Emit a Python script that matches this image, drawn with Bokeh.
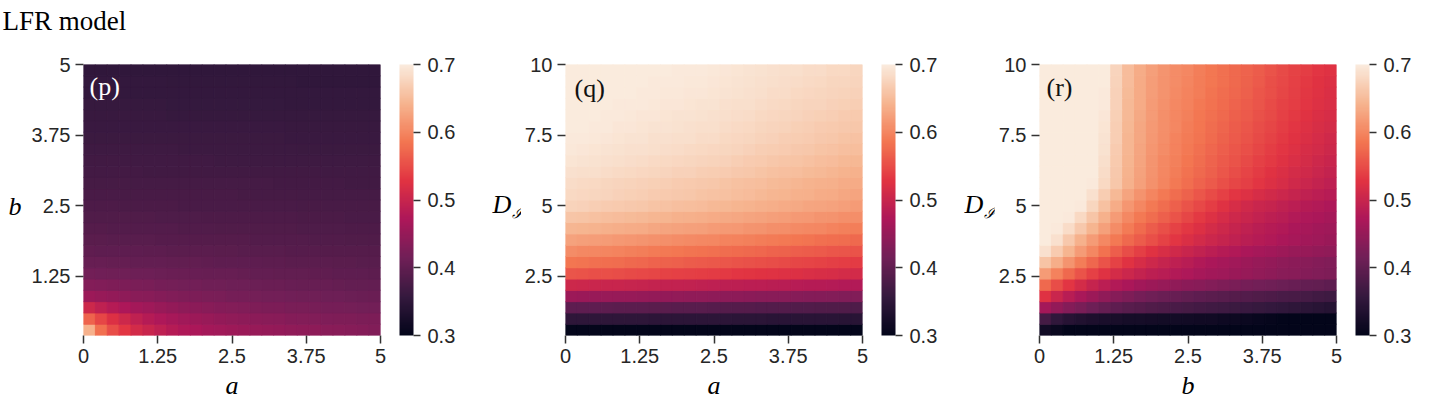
import numpy as np
from bokeh.plotting import figure
from bokeh.models import (ColumnDataSource, LinearColorMapper, ColorBar, FixedTicker,
                          Label, Range1d, CustomJSTickFormatter)
from bokeh.layouts import row, column
from bokeh.transform import transform
from bokeh.embed import file_html
from bokeh.resources import INLINE

# ---------------- data ----------------
A_VALUES = [0.1, 0.3, 0.5, 0.7, 0.9, 1.1, 1.3, 1.5, 1.7, 1.9, 2.1, 2.3, 2.5,
            2.7, 2.9, 3.1, 3.3, 3.5, 3.7, 3.9, 4.1, 4.3, 4.5, 4.7, 4.9]
B_VALUES = [0.3, 0.5, 0.7, 0.9, 1.1, 1.3, 1.5, 1.7, 1.9, 2.1, 2.3, 2.5,
            2.7, 2.9, 3.1, 3.3, 3.5, 3.7, 3.9, 4.1, 4.3, 4.5, 4.7, 4.9]
D_VALUES = [0.6, 1.0, 1.4, 1.8, 2.2, 2.6, 3.0, 3.4, 3.8, 4.2, 4.6, 5.0,
            5.4, 5.8, 6.2, 6.6, 7.0, 7.4, 7.8, 8.2, 8.6, 9.0, 9.4, 9.8]

X_TICKS = [0, 1.25, 2.5, 3.75, 5]
X_TICK_LABELS = ["0", "1.25", "2.5", "3.75", "5"]
B_TICKS = [1.25, 2.5, 3.75, 5]
B_TICK_LABELS = ["1.25", "2.5", "3.75", "5"]
D_TICKS = [2.5, 5, 7.5, 10]
D_TICK_LABELS = ["2.5", "5", "7.5", "10"]
CBAR_TICKS = [0.3, 0.4, 0.5, 0.6, 0.7]
CBAR_TICK_LABELS = ["0.3", "0.4", "0.5", "0.6", "0.7"]
VMIN, VMAX = 0.3, 0.7

TITLE = "LFR model"
TAGS = ["(p)", "(q)", "(r)"]
X_LABELS = ["a", "a", "b"]

# values in thousandths; rows from bottom (first y value) to top, columns left to right
P_VALUES = [  # x = a, y = b
    [640,580,550,530,512,500,490,481,474,469,464,460,457,454,451,449,447,445,443,441,439,437,435,433,431],
    [570,545,522,505,492,481,472,466,460,456,452,448,445,442,440,438,436,434,432,430,429,428,427,426,425],
    [505,492,480,471,464,458,452,447,443,440,437,434,432,430,428,426,425,423,422,421,420,419,418,417,416],
    [455,451,447,443,439,436,433,430,428,426,424,422,420,419,418,417,416,415,414,413,412,411,410,409,408],
    [432,430,428,426,424,422,420,418,417,416,414,413,412,411,410,409,408,407,406,405,405,404,403,403,402],
    [416,415,414,413,412,411,410,409,408,407,406,405,405,404,403,402,401,401,400,399,399,398,397,397,396],
    [406,405,404,404,403,402,402,401,400,400,399,398,398,397,397,396,396,395,395,394,394,393,393,392,392],
    [399,398,398,397,397,396,396,395,395,394,394,393,393,392,392,391,391,390,390,390,389,389,388,388,388],
    [393,393,392,392,391,391,390,390,390,389,389,388,388,388,387,387,386,386,386,385,385,385,384,384,384],
    [388,388,387,387,387,386,386,386,385,385,385,384,384,384,384,383,383,383,382,382,382,382,381,381,381],
    [384,384,383,383,383,383,382,382,382,382,381,381,381,381,380,380,380,380,379,379,379,379,378,378,378],
    [380,380,380,379,379,379,379,379,378,378,378,378,378,377,377,377,377,377,376,376,376,376,375,375,375],
    [377,377,377,376,376,376,376,376,375,375,375,375,375,374,374,374,374,374,373,373,373,373,372,372,372],
    [374,374,374,374,373,373,373,373,373,373,372,372,372,372,372,372,371,371,371,371,371,371,370,370,370],
    [371,371,371,371,371,370,370,370,370,370,370,370,370,369,369,369,369,369,369,369,368,368,368,368,368],
    [369,369,369,368,368,368,368,368,368,368,368,367,367,367,367,367,367,367,367,366,366,366,366,366,366],
    [366,366,366,366,366,366,366,366,365,365,365,365,365,365,365,365,365,365,364,364,364,364,364,364,364],
    [364,364,364,364,364,364,364,363,363,363,363,363,363,363,363,363,363,362,362,362,362,362,362,362,362],
    [362,362,362,362,362,362,362,361,361,361,361,361,361,361,361,361,361,360,360,360,360,360,360,360,360],
    [360,360,360,360,360,360,360,359,359,359,359,359,359,359,359,359,359,358,358,358,358,358,358,358,358],
    [358,358,358,358,358,358,358,357,357,357,357,357,357,357,357,357,357,356,356,356,356,356,356,356,356],
    [356,356,356,356,356,356,356,356,356,356,356,356,355,355,355,355,355,355,355,355,355,355,355,355,355],
    [355,355,355,355,355,355,355,354,354,354,354,354,354,354,354,354,354,354,353,353,353,353,353,353,353],
    [353,353,353,353,353,353,353,353,353,353,353,353,353,352,352,352,352,352,352,352,352,352,352,352,352],
]

Q_VALUES = [  # x = a, y = D_I
    [302,302,302,301,301,301,301,301,300,300,300,300,300,300,300,299,299,299,299,299,299,298,298,298,298],
    [350,350,350,349,349,349,349,348,348,348,348,347,347,347,346,346,346,345,345,345,344,344,344,343,343],
    [398,397,397,396,395,395,394,393,393,392,391,391,390,389,389,388,387,387,386,385,385,384,383,383,382],
    [455,454,453,452,451,450,449,448,447,446,445,444,443,442,441,440,439,438,437,435,434,433,432,431,430],
    [505,504,503,501,500,499,498,496,495,494,493,491,490,489,488,487,486,485,484,482,481,480,479,478,477],
    [557,555,553,552,550,548,546,544,542,540,539,537,535,533,531,529,527,525,524,522,520,518,516,514,512],
    [585,583,581,579,577,575,573,570,568,566,564,562,560,558,556,554,552,550,548,545,543,541,539,537,535],
    [605,603,601,599,597,595,593,590,588,586,584,582,580,578,576,574,572,570,568,565,563,561,559,557,555],
    [625,623,621,619,617,615,613,610,608,606,604,602,600,598,596,594,592,590,588,585,583,581,579,577,575],
    [645,643,641,639,637,635,633,630,628,626,624,622,620,618,616,613,611,609,607,604,602,600,598,595,593],
    [660,658,656,653,651,649,647,645,643,640,638,636,634,632,630,627,625,623,621,618,616,614,612,609,607],
    [674,672,670,667,665,663,661,659,657,654,652,650,648,646,643,641,639,636,634,632,629,627,625,622,620],
    [681,679,677,675,673,671,669,667,665,663,661,659,657,655,652,650,647,645,643,640,638,635,633,630,628],
    [684,682,680,678,676,674,673,671,669,667,665,663,661,659,656,654,652,649,647,645,642,640,638,635,633],
    [689,687,686,684,682,680,679,677,675,673,672,670,668,666,663,661,659,656,654,652,649,647,645,642,640],
    [693,691,690,688,687,685,683,682,680,679,677,676,674,672,669,667,665,662,660,658,655,653,651,648,646],
    [696,695,693,692,690,689,688,686,685,683,682,680,679,677,675,672,670,668,666,663,661,659,657,654,652],
    [698,697,696,694,693,692,691,689,688,687,686,684,683,681,679,677,674,672,670,668,666,664,661,659,657],
    [700,699,698,697,695,694,693,692,691,690,688,687,686,684,682,680,678,676,674,671,669,667,665,663,661],
    [701,700,699,698,697,696,695,694,693,692,691,690,689,687,685,683,681,679,677,675,673,671,669,667,665],
    [702,701,700,699,698,697,697,696,695,694,693,692,691,689,687,686,684,682,680,678,676,675,673,671,669],
    [703,702,701,701,700,699,698,697,696,696,695,694,693,691,690,688,686,684,683,681,679,677,676,674,672],
    [703,702,702,701,700,700,699,698,698,697,696,696,695,693,692,690,688,687,685,683,682,680,678,677,675],
    [704,703,703,702,701,701,700,699,699,698,697,697,696,695,693,692,690,689,687,686,684,683,681,680,678],
]

R_VALUES = [  # x = b, y = D_I
    [318,308,300,295,293,292,291,290,290,290,290,290,290,290,290,290,290,290,290,290,290,290,290,290,290],
    [372,352,342,335,330,327,325,323,322,321,320,319,318,317,316,314,312,310,307,304,300,296,294,292,290],
    [463,447,433,422,412,404,398,392,388,384,380,377,374,371,368,366,364,361,358,355,352,349,346,343,340],
    [525,503,484,468,455,444,435,427,420,414,409,405,401,398,395,392,389,386,383,380,378,375,372,369,366],
    [575,550,530,513,498,487,477,469,462,456,450,445,440,436,432,428,424,420,417,413,410,407,403,400,397],
    [620,596,575,556,540,526,514,504,496,489,483,477,472,467,462,458,454,450,446,443,439,436,433,430,427],
    [658,636,613,592,573,556,541,528,517,507,498,490,483,476,470,465,460,455,451,447,443,440,437,434,431],
    [688,667,643,620,600,582,565,551,539,528,518,509,500,493,486,480,475,470,465,461,457,453,450,447,444],
    [703,688,664,640,620,602,588,575,563,552,541,531,521,512,504,497,491,485,480,475,470,466,462,458,454],
    [708,698,683,663,643,624,606,590,576,564,553,542,532,522,513,505,498,491,485,480,475,470,466,462,458],
    [710,705,697,680,660,640,620,603,589,577,566,555,544,534,524,515,507,500,494,488,483,478,473,469,465],
    [710,708,704,697,678,655,635,615,600,588,578,567,556,546,536,526,516,509,503,497,491,486,481,477,473],
    [710,709,706,701,688,668,648,628,612,599,589,578,568,558,549,540,531,524,517,510,504,498,492,487,482],
    [710,710,708,705,697,681,661,640,624,610,599,588,579,570,561,553,545,538,530,523,516,509,502,496,490],
    [710,710,709,706,699,684,663,641,626,612,601,591,582,574,566,558,550,543,535,528,521,514,508,502,496],
    [710,710,709,707,701,687,665,643,627,614,603,594,585,577,570,562,555,548,540,533,526,519,513,507,501],
    [710,710,709,707,703,690,667,644,629,615,605,596,588,580,573,565,559,552,545,537,530,524,517,511,506],
    [710,710,709,708,704,692,669,645,630,617,607,598,590,583,576,568,562,555,548,541,534,527,521,515,509],
    [710,710,709,708,705,693,670,646,631,618,608,600,592,585,578,571,564,558,551,544,537,530,524,518,513],
    [710,710,710,709,707,695,671,647,632,619,609,601,594,587,580,574,567,561,554,547,540,533,527,521,516],
    [710,710,710,709,708,697,672,648,633,620,610,603,596,589,582,576,570,563,557,549,542,536,530,524,519],
    [710,710,710,709,709,698,673,649,634,621,611,604,598,591,584,578,572,566,559,552,545,538,532,526,521],
    [710,710,710,710,709,699,674,650,634,621,612,605,599,592,586,580,574,568,561,553,546,540,534,528,523],
    [710,710,710,710,710,700,675,650,635,622,613,606,600,593,587,581,575,569,563,555,548,542,536,530,525],
]

# ---------------- style ----------------
ROCKET_ANCHORS = ["#03051A", "#35193E", "#701F57", "#AD1759",
                  "#E13342", "#F37651", "#F6B48F", "#FAEBDD"]


def make_palette(anchors, n=256):
    rgb = np.array([[int(h[i:i + 2], 16) for i in (1, 3, 5)] for h in anchors], float)
    pos = np.linspace(0, 1, len(anchors))
    out = []
    for t in np.linspace(0, 1, n):
        c = [int(round(np.interp(t, pos, rgb[:, k]))) for k in range(3)]
        out.append("#%02x%02x%02x" % tuple(c))
    return out


PALETTE = make_palette(ROCKET_ANCHORS)
TICK_FONT = "Liberation Sans"
TICK_SIZE = "20px"
TICK_COLOR = "#262626"
SERIF = "Liberation Serif"
FRAME_W, FRAME_H = 297, 271
TOP_STRIP_H = 40
FIG_H = 361
FRAME_TOP = 64                      # page y of the heatmap frames' top edge
FRAME_BOTTOM = FRAME_TOP + FRAME_H  # page y of the frames' bottom edge


def fmt(tvals, tlabels):
    return CustomJSTickFormatter(
        args=dict(tvals=list(tvals), tlabels=list(tlabels)),
        code="const i = tvals.findIndex(t => Math.abs(t - tick) < 1e-9); return i >= 0 ? tlabels[i] : '';")


def text(p, s, x, baseline_from_bottom, size_px, style="normal", color="#000000",
         align="left", font=SERIF):
    # position given as alphabetic baseline; drawn with a "middle" anchor
    mid = baseline_from_bottom + 0.335 * size_px
    p.add_layout(Label(x=x, y=mid, x_units="screen", y_units="screen", text=s,
                       text_font=font, text_font_size="%gpx" % size_px,
                       text_font_style=style, text_color=color, text_align=align,
                       text_baseline="middle"))


def blank(width, height):
    p = figure(width=width, height=height, output_backend="svg", toolbar_location=None,
               x_axis_location=None, y_axis_location=None,
               x_range=Range1d(0, 1), y_range=Range1d(0, 1),
               min_border=0, min_border_left=0, min_border_right=0,
               min_border_top=0, min_border_bottom=0)
    p.grid.visible = False
    p.outline_line_color = None
    p.background_fill_color = None
    p.border_fill_color = None
    return p


def panel(xs, ys, grid, y_ticks, y_labels, x_label, border_left, border_right):
    xx, yy, vv = [], [], []
    for yv, rowvals in zip(ys, grid):
        for xv, v in zip(xs, rowvals):
            xx.append(xv)
            yy.append(yv)
            vv.append(v / 1000.0)
    src = ColumnDataSource(dict(x=xx, y=yy, v=vv))
    dx = xs[1] - xs[0]
    dy = ys[1] - ys[0]
    p = figure(frame_width=FRAME_W, frame_height=FRAME_H,
               x_range=Range1d(round(xs[0] - dx / 2, 6), round(xs[-1] + dx / 2, 6)),
               y_range=Range1d(round(ys[0] - dy / 2, 6), round(ys[-1] + dy / 2, 6)),
               output_backend="svg", toolbar_location=None,
               min_border_left=border_left, min_border_right=border_right,
               min_border_top=FRAME_TOP - TOP_STRIP_H,
               min_border_bottom=FIG_H - FRAME_H - (FRAME_TOP - TOP_STRIP_H))
    mapper = LinearColorMapper(palette=PALETTE, low=VMIN, high=VMAX)
    p.rect("x", "y", width=dx, height=dy, source=src,
           fill_color=transform("v", mapper), line_color=transform("v", mapper),
           line_width=1)
    p.grid.visible = False
    p.outline_line_color = None
    p.background_fill_color = "white"
    p.border_fill_color = "white"
    p.xaxis.ticker = FixedTicker(ticks=X_TICKS)
    p.xaxis.formatter = fmt(X_TICKS, X_TICK_LABELS)
    p.yaxis.ticker = FixedTicker(ticks=y_ticks)
    p.yaxis.formatter = fmt(y_ticks, y_labels)
    for ax in (p.xaxis[0], p.yaxis[0]):
        ax.axis_line_color = None
        ax.major_tick_line_color = "#333333"
        ax.major_tick_line_width = 1.5
        ax.major_tick_out = 8
        ax.major_tick_in = 0
        ax.minor_tick_line_color = None
        ax.major_label_text_font = TICK_FONT
        ax.major_label_text_font_size = TICK_SIZE
        ax.major_label_text_color = TICK_COLOR
        ax.major_label_standoff = 5
    xa = p.xaxis[0]
    xa.axis_label = x_label
    xa.axis_label_text_font = SERIF
    xa.axis_label_text_font_style = "italic"
    xa.axis_label_text_font_size = "26px"
    xa.axis_label_text_color = "#000000"
    xa.axis_label_standoff = 5
    cb = ColorBar(color_mapper=mapper, ticker=FixedTicker(ticks=CBAR_TICKS),
                  formatter=fmt(CBAR_TICKS, CBAR_TICK_LABELS),
                  width=14, height=FRAME_H, location=(316, 0), padding=0, margin=0,
                  major_tick_out=7, major_tick_in=0, major_tick_line_color="#333333",
                  major_tick_line_width=1.5, minor_tick_line_color=None,
                  bar_line_color=None, border_line_color=None,
                  background_fill_color=None, label_standoff=7,
                  major_label_text_font=TICK_FONT, major_label_text_font_size=TICK_SIZE,
                  major_label_text_color=TICK_COLOR)
    p.add_layout(cb)
    return p


# page x layout: [yl1 0-26][p1 26-488][yl2 488-521][p2 521-960][yl3 960-993][p3 993-1443]
p1 = panel(A_VALUES, B_VALUES, P_VALUES, B_TICKS, B_TICK_LABELS, X_LABELS[0], 57, 108)
p2 = panel(A_VALUES, D_VALUES, Q_VALUES, D_TICKS, D_TICK_LABELS, X_LABELS[1], 42, 100)
p3 = panel(A_VALUES, D_VALUES, R_VALUES, D_TICKS, D_TICK_LABELS, X_LABELS[2], 43, 110)

yl1 = blank(26, FIG_H)
yl2 = blank(33, FIG_H)
yl3 = blank(33, FIG_H)

# y-axis titles (horizontal); the label figures' frames line up with the heatmap frames
text(yl1, "b", 8, FRAME_BOTTOM - 216, 26, "italic")
text(yl2, "D", 4, FRAME_BOTTOM - 214, 26, "italic")
text(yl2, "\u2110", 23, FRAME_BOTTOM - 219, 15, "italic")
text(yl3, "D", 2, FRAME_BOTTOM - 214, 26, "italic")
text(yl3, "\u2110", 21, FRAME_BOTTOM - 219, 15, "italic")

# panel tags
text(p1, TAGS[0], 6, FRAME_BOTTOM - 95, 26, color="#ffffff")
text(p2, TAGS[1], 9, FRAME_BOTTOM - 97, 26, color="#111111")
text(p3, TAGS[2], 7, FRAME_BOTTOM - 96, 26, color="#111111")

# figure title strip
strip = blank(1443, TOP_STRIP_H)
text(strip, TITLE, 2, TOP_STRIP_H - 30, 27)

layout = column(strip, row(yl1, p1, yl2, p2, yl3, p3))
open("out.html", "w").write(file_html(layout, INLINE))
